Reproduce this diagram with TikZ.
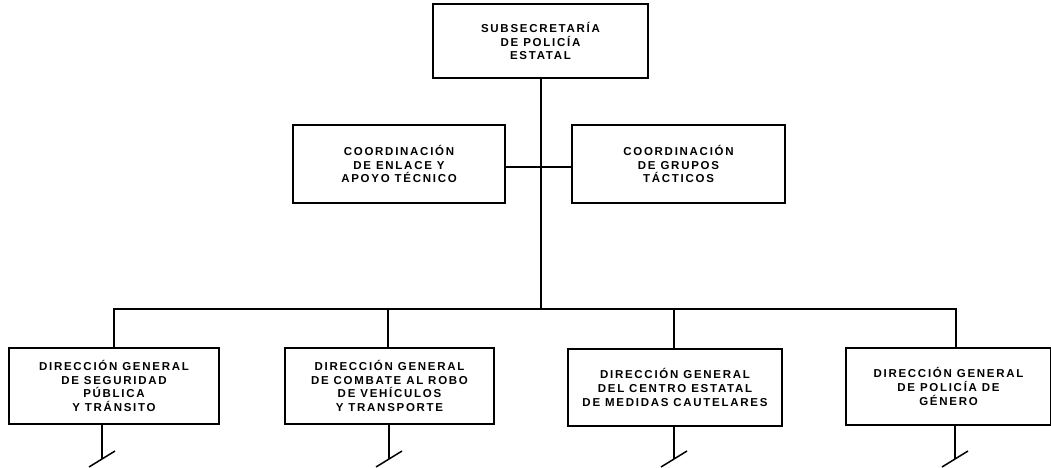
\documentclass[tikz,border=0pt]{standalone}
\usepackage{fontspec}
\newfontfamily\orgfont[LetterSpace=15]{Liberation Sans}
\begin{document}
\begin{tikzpicture}[x=1pt,y=-1pt,
  box/.style={draw=black,line width=1.8pt,rectangle,align=center,inner sep=0pt,
    font=\orgfont\bfseries\fontsize{11.5}{13.8}\selectfont},
  link/.style={draw=black,line width=1.8pt}]
\useasboundingbox (0,0) rectangle (1051,468);
\node[box,minimum width=215pt,minimum height=74pt] (top) at (540.5,41) {SUBSECRETARÍA\\DE POLICÍA\\ESTATAL};
\node[box,minimum width=212pt,minimum height=78pt] (ml) at (399,164) {COORDINACIÓN\\DE ENLACE Y\\APOYO TÉCNICO};
\node[box,minimum width=213pt,minimum height=78pt] (mr) at (678.5,164) {COORDINACIÓN\\DE GRUPOS\\TÁCTICOS};
\node[box,minimum width=210pt,minimum height=76pt] (b1) at (114,386) {DIRECCIÓN GENERAL\\DE SEGURIDAD\\PÚBLICA\\Y TRÁNSITO};
\node[box,minimum width=209pt,minimum height=76pt] (b2) at (389.5,386) {DIRECCIÓN GENERAL\\DE COMBATE AL ROBO\\DE VEHÍCULOS\\Y TRANSPORTE};
\node[box,minimum width=214pt,minimum height=77pt] (b3) at (675,387.5) {DIRECCIÓN GENERAL\\DEL CENTRO ESTATAL\\DE MEDIDAS CAUTELARES};
\node[box,minimum width=205pt,minimum height=77pt] (b4) at (948.5,386.5) {DIRECCIÓN GENERAL\\DE POLICÍA DE\\GÉNERO};
% trunk and bar
\coordinate (hub) at (541,309);
\coordinate (d1) at (114,309);
\coordinate (d2) at (388,309);
\coordinate (d3) at (674,309);
\coordinate (d4) at (956,309);
\draw[link] (top.south -| hub) -- (hub);
\draw[link] ([yshift=-3pt]ml.east) -- ([yshift=-3pt]mr.west);
\draw[link,line cap=rect] (d1) -- (d4);
\draw[link] (d1) -- (d1 |- b1.north);
\draw[link] (d2) -- (d2 |- b2.north);
\draw[link] (d3) -- (d3 |- b3.north);
\draw[link] (d4) -- (d4 |- b4.north);
% stubs with break marks
\coordinate (s1) at (102,459);
\coordinate (s2) at (389,459);
\coordinate (s3) at (674,459);
\coordinate (s4) at (955,459);
\foreach \s/\b in {s1/b1,s2/b2,s3/b3,s4/b4}{
  \draw[link] (\s |- \b.south) -- (\s);
  \draw[link,line width=1.5pt] ([shift={(-13,8)}]\s) -- ([shift={(13,-8)}]\s);
}
\end{tikzpicture}
\end{document}
